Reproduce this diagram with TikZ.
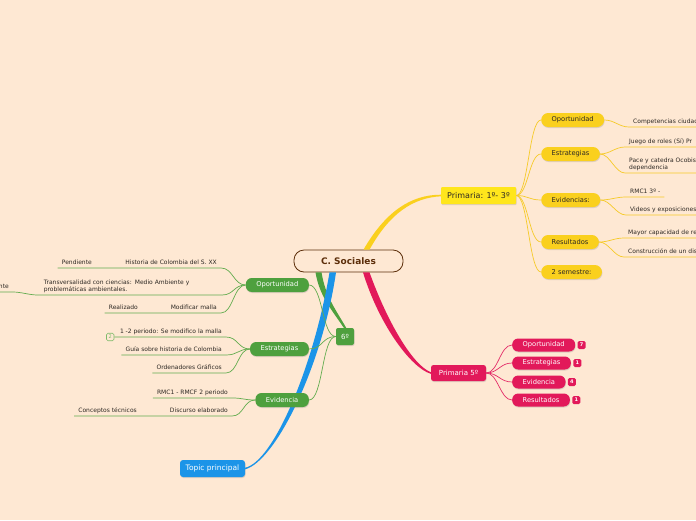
\documentclass[tikz,border=0pt]{standalone}
\usepackage{fontspec}
\setmainfont{DejaVu Sans}
\usetikzlibrary{positioning,shadows}

\definecolor{fondo}{RGB}{254,232,211}
\definecolor{marron}{RGB}{92,46,10}
\definecolor{amarillo}{RGB}{250,208,30}
\definecolor{amarilloclaro}{RGB}{255,230,28}
\definecolor{lineaam}{RGB}{246,202,40}
\definecolor{rosa}{RGB}{226,25,90}
\definecolor{linearo}{RGB}{228,45,105}
\definecolor{verde}{RGB}{78,160,62}
\definecolor{lineave}{RGB}{98,172,78}
\definecolor{verdeclaro}{RGB}{125,186,105}
\definecolor{azul}{RGB}{27,148,232}
\definecolor{texto}{RGB}{45,40,35}

\tikzset{
  sombra/.style={drop shadow={opacity=0.25, shadow xshift=0.5pt, shadow yshift=-1pt}},
  centro/.style={draw=marron, line width=0.8pt, fill=fondo, rounded corners=10pt,
    minimum width=109pt, minimum height=22pt, text=marron,
    font=\fontsize{9}{10}\selectfont\bfseries},
  caja/.style={sombra, inner sep=0pt, font=\fontsize{7}{8}\selectfont},
  rama/.style={sombra, rounded corners=6pt, minimum height=14pt, inner xsep=10.5pt,
    inner ysep=0pt, font=\fontsize{6.7}{8}\selectfont},
  ramaam/.style={rama, fill=amarillo, text=texto, rounded corners=7pt},
  ramaro/.style={rama, fill=rosa, text=white, minimum height=13pt},
  ramave/.style={rama, fill=verde, text=white},
  hojabase/.style={inner xsep=4pt, inner ysep=2pt, text=texto,
    font=\fontsize{6}{7.5}\selectfont},
  hoja/.style={hojabase, text height=4.5pt, text depth=1.5pt},
  insignia/.style={rounded corners=1.5pt, fill=rosa, text=white, minimum size=8pt,
    inner sep=0pt, font=\fontsize{5}{5}\selectfont\bfseries},
  lam/.style={draw=lineaam, line width=0.7pt},
  lro/.style={draw=linearo, line width=0.7pt},
  lve/.style={draw=lineave, line width=0.7pt},
}

\begin{document}
\begin{tikzpicture}[x=1pt,y=-1pt]
  \useasboundingbox (0,0) rectangle (696,520);
  \clip (0,0) rectangle (696,520);
  \fill[fondo] (0,0) rectangle (696,520);

  % nodo central y ramas principales
  \node[centro] (cs) at (348.5,261) {C. Sociales};
  \node[caja, fill=amarilloclaro, text=texto, rounded corners=1pt, minimum width=75pt,
    minimum height=17pt, font=\fontsize{8}{9}\selectfont] (p13) at (478.5,195.5) {Primaria: 1º- 3º};
  \node[caja, fill=rosa, text=white, rounded corners=2.5pt, minimum width=55pt,
    minimum height=16pt] (p5) at (458.5,373) {Primaria 5º};
  \node[caja, fill=verde, text=white, rounded corners=2pt, minimum width=18pt,
    minimum height=17pt] (g6) at (345,336.5) {6º};
  \node[caja, fill=azul, text=white, rounded corners=3pt, minimum width=65pt,
    minimum height=17pt, font=\fontsize{7.5}{8}\selectfont] (tp) at (212.5,468.5) {Topic principal};

  \fill[amarillo] ([xshift=15pt]cs.north) .. controls +(22,-38) and +(-30,0) .. ([yshift=0.8pt]p13.west)
    -- ([yshift=-0.8pt]p13.west) .. controls +(-28,1.5) and +(20,-36) .. ([xshift=21pt]cs.north) -- cycle;
  \fill[rosa] ([xshift=14.5pt]cs.south) .. controls +(16,52) and +(-20,-6) .. ([yshift=-0.8pt]p5.west)
    -- ([yshift=0.8pt]p5.west) .. controls +(-18,-7) and +(18,50) .. ([xshift=21pt]cs.south) -- cycle;
  \fill[verde] ([xshift=-33pt]cs.south) .. controls +(4,24) and +(-12,-18) .. ([xshift=-1.2pt]g6.north)
    -- ([xshift=1.2pt]g6.north) .. controls +(-11,-19) and +(4,24) .. ([xshift=-27pt]cs.south) -- cycle;
  \fill[azul] ([xshift=-19pt]cs.south) .. controls +(-16,95) and +(28,-6) .. ([yshift=0.8pt]tp.east)
    -- ([yshift=-0.8pt]tp.east) .. controls +(30,-8) and +(-14,95) .. ([xshift=-12.5pt]cs.south) -- cycle;

  % Primaria 1-3
  \foreach \nom/\txt/\y in {opA/Oportunidad/120, esA/Estrategias/154, evA/Evidencias:/200,
    reA/Resultados/242, seA/2 semestre:/272}
  {
    \node[ramaam, anchor=west] (\nom) at (541,\y) {\txt};
    \draw[lam] (p13.east) .. controls +(12,0) and +(-12,0) .. (\nom.west);
  }
  \node[hoja, anchor=south west, text width=70pt] (comp) at (629,127) {Competencias ciudad};
  \node[hoja, anchor=south west, text width=70pt] (juego) at (625,147) {Juego de roles (Sí) Pr};
  \node[hojabase, anchor=south west, text width=70pt, align=left] (pace) at (625,173)
    {Pace y catedra Ocobis\\dependencia};
  \node[hoja, anchor=south west] (rmcA) at (626,197) {RMC1 3º -};
  \node[hoja, anchor=south west, text width=70pt] (video) at (626,215) {Videos y exposiciones};
  \node[hoja, anchor=south west, text width=72pt] (mayor) at (624,238) {Mayor capacidad de re};
  \node[hoja, anchor=south west, text width=72pt] (constr) at (624,257) {Construcción de un dis};
  \draw[lam] (opA.east) .. controls +(10,0) and +(-10,0) .. (comp.south west) -- (comp.south east);
  \draw[lam] (esA.east) .. controls +(10,0) and +(-10,0) .. (juego.south west) -- (juego.south east);
  \draw[lam] (esA.east) .. controls +(10,0) and +(-10,0) .. (pace.south west) -- (pace.south east);
  \draw[lam] (evA.east) .. controls +(10,0) and +(-10,0) .. (rmcA.south west) -- (rmcA.south east);
  \draw[lam] (evA.east) .. controls +(10,0) and +(-10,0) .. (video.south west) -- (video.south east);
  \draw[lam] (reA.east) .. controls +(10,0) and +(-10,0) .. (mayor.south west) -- (mayor.south east);
  \draw[lam] (reA.east) .. controls +(10,0) and +(-10,0) .. (constr.south west) -- (constr.south east);

  % Primaria 5
  \foreach \nom/\txt/\y/\num in {opR/Oportunidad/345/7, esR/Estrategias/363/1,
    evR/Evidencia/382/4, reR/Resultados/400/1}
  {
    \node[ramaro, anchor=west] (\nom) at (512,\y) {\txt};
    \node[insignia, right=2pt of \nom] (b\nom) {\num};
    \draw[lro] (p5.east) .. controls +(12,0) and +(-12,0) .. (\nom.west);
  }

  % 6
  \foreach \nom/\txt/\y in {opV/Oportunidad/285, esV/Estrategias/349, evV/Evidencia/400}
  {
    \node[ramave, anchor=east] (\nom) at (309,\y) {\txt};
    \draw[lve] (g6.west) .. controls +(-14,0) and +(14,0) .. (\nom.east);
  }
  \node[hoja, anchor=south east] (hist) at (221,268) {Historia de Colombia del S. XX};
  \node[hoja, anchor=south east] (pend) at (96,268) {Pendiente};
  \node[hojabase, anchor=south east, inner xsep=6pt, text width=172pt, align=left] (trans) at (222,295)
    {Transversalidad con ciencias: Medio Ambiente y\\problemáticas ambientales.};
  \node[hoja, anchor=south east] (pendB) at (13,292) {Pendiente};
  \node[hoja, anchor=south east] (modif) at (221,313) {Modificar malla};
  \node[hoja, anchor=south east] (real) at (142,313) {Realizado};
  \node[hoja, anchor=south east] (per) at (226,337) {1 -2 periodo: Se modifico la malla};
  \node[draw=verdeclaro, line width=0.6pt, rounded corners=1.5pt, minimum size=7.5pt, inner sep=0pt,
    text=verdeclaro, font=\fontsize{5}{5}\selectfont, left=1.5pt of per.south west] (b2) {2};
  \node[hoja, anchor=south east] (guia) at (226,355) {Guía sobre historia de Colombia};
  \node[hoja, anchor=south east] (orden) at (226,373) {Ordenadores Gráficos};
  \node[hoja, anchor=south east] (rmcV) at (232,398) {RMC1 - RMCF 2 periodo};
  \node[hoja, anchor=south east] (disc) at (232,416) {Discurso elaborado};
  \node[hoja, anchor=south east] (conc) at (141,416) {Conceptos técnicos};
  \draw[lve] (opV.west) .. controls +(-12,0) and +(12,0) .. (hist.south east) -- (hist.south west)
    -- (pend.south east) -- (pend.south west);
  \draw[lve] (opV.west) .. controls +(-12,0) and +(12,0) .. (trans.south east) -- (trans.south west)
    .. controls +(-8,0) and +(8,0) .. (pendB.south east) -- (pendB.south west);
  \draw[lve] (opV.west) .. controls +(-12,0) and +(12,0) .. (modif.south east) -- (modif.south west)
    -- (real.south east) -- (real.south west);
  \draw[lve] (esV.west) .. controls +(-12,0) and +(12,0) .. (per.south east) -- (per.south west) -- (b2.east);
  \draw[lve] (esV.west) .. controls +(-12,0) and +(12,0) .. (guia.south east) -- (guia.south west);
  \draw[lve] (esV.west) .. controls +(-12,0) and +(12,0) .. (orden.south east) -- (orden.south west);
  \draw[lve] (evV.west) .. controls +(-12,0) and +(12,0) .. (rmcV.south east) -- (rmcV.south west);
  \draw[lve] (evV.west) .. controls +(-12,0) and +(12,0) .. (disc.south east) -- (disc.south west)
    -- (conc.south east) -- (conc.south west);
\end{tikzpicture}
\end{document}
